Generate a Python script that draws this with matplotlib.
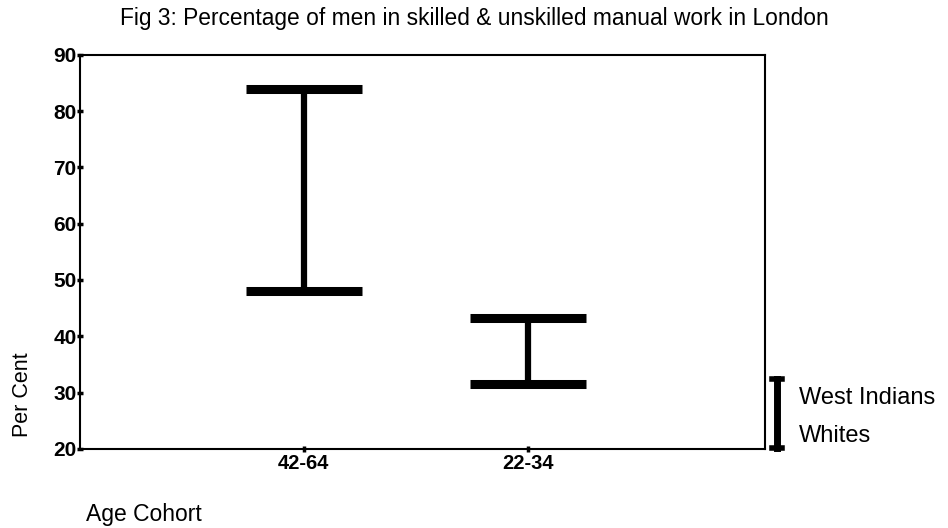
import matplotlib
matplotlib.use("Agg")
import matplotlib.pyplot as plt
from matplotlib.lines import Line2D

plt.rcParams['font.family'] = ['Liberation Sans', 'DejaVu Sans']

categories = ["42-64", "22-34"]
west_indians = [84, 43.3]   # high ends
whites = [48, 31.5]         # low ends
yticks = [20, 30, 40, 50, 60, 70, 80, 90]

fig = plt.figure(figsize=(9.48, 5.28), dpi=100)
ax = fig.add_axes([0.0844, 0.150, 0.7226, 0.746])

xpos = [1, 2]
ax.vlines(xpos, whites, west_indians, color='black', linewidth=4.5)
cap_half = 0.26
for x, hi, lo in zip(xpos, west_indians, whites):
    ax.hlines([hi, lo], x - cap_half, x + cap_half, color='black', linewidth=6.5)

ax.set_xlim(0, 3.06)
ax.set_ylim(20, 90)
ax.set_xticks(xpos)
ax.set_xticklabels(categories, fontsize=14.5, fontweight='bold')
ax.set_yticks(yticks)
ax.set_yticklabels([str(v) for v in yticks], fontsize=15, fontweight='bold')
ax.tick_params(axis='both', direction='inout', length=5, width=2.5, pad=1)
ax.tick_params(axis='y', pad=0)
for s in ax.spines.values():
    s.set_linewidth(1.5)

fig.text(0.127, 0.965, "Fig 3: Percentage of men in skilled & unskilled manual work in London",
         fontsize=16.4, ha='left', va='center')
fig.text(0.024, 0.252, "Per Cent", rotation=90, fontsize=15.5, ha='center', va='center')
fig.text(0.091, 0.025, "Age Cohort", fontsize=16.5, ha='left', va='center')

# legend glyph
lx = 0.8196
fig.add_artist(Line2D([lx, lx], [0.152, 0.282], color='black', linewidth=5, transform=fig.transFigure))
fig.add_artist(Line2D([lx - 0.005, lx + 0.005], [0.282, 0.282], color='black', linewidth=4, transform=fig.transFigure))
fig.add_artist(Line2D([lx - 0.005, lx + 0.005], [0.152, 0.152], color='black', linewidth=4, transform=fig.transFigure))
fig.text(0.843, 0.246, "West Indians", fontsize=17, ha='left', va='center')
fig.text(0.843, 0.174, "Whites", fontsize=17, ha='left', va='center')

fig.savefig("out.png", dpi=100)
